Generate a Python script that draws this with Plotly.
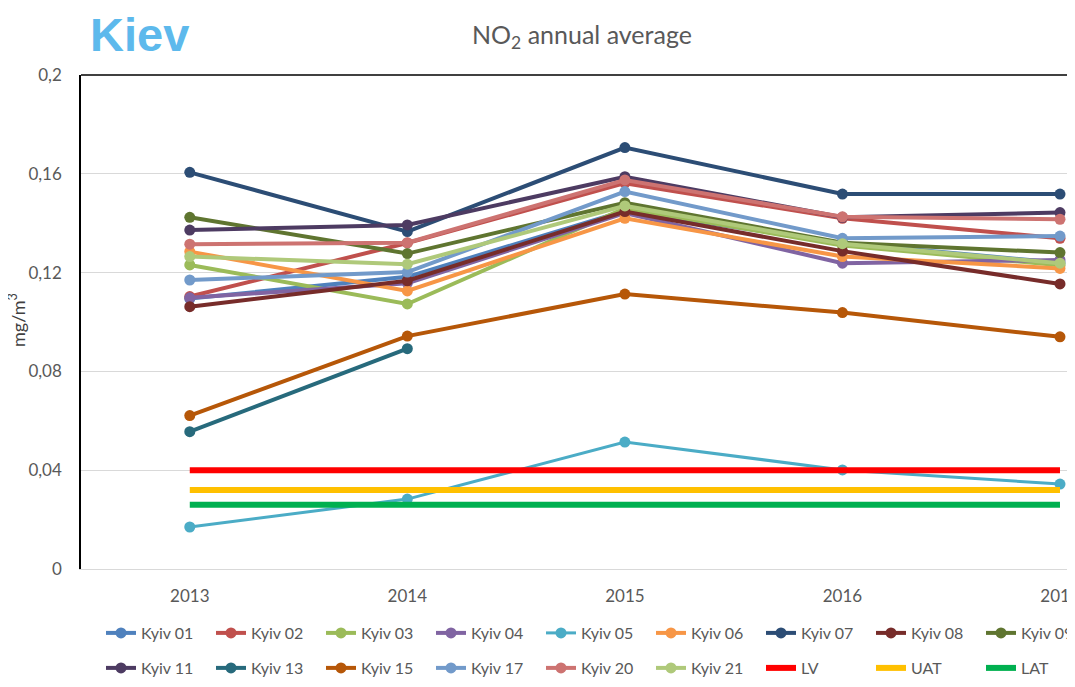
import plotly.graph_objects as go

years = [2013, 2014, 2015, 2016, 2017]

kyiv01 = [0.1095, 0.1183, 0.1450, 0.1320, 0.1240]
kyiv02 = [0.1103, 0.1320, 0.1562, 0.1420, 0.1339]
kyiv03 = [0.1231, 0.1073, 0.1460, 0.1310, 0.1230]
kyiv04 = [0.1098, 0.1157, 0.1441, 0.1238, 0.1251]
kyiv05 = [0.0170, 0.0283, 0.0514, 0.0401, 0.0344]
kyiv06 = [0.1285, 0.1126, 0.1420, 0.1265, 0.1217]
kyiv07 = [0.1606, 0.1366, 0.1706, 0.1518, 0.1518]
kyiv08 = [0.1062, 0.1167, 0.1447, 0.1287, 0.1154]
kyiv09 = [0.1424, 0.1277, 0.1483, 0.1321, 0.1281]
kyiv11 = [0.1372, 0.1393, 0.1588, 0.1424, 0.1443]
kyiv13 = [0.0556, 0.0892, None, None, None]
kyiv15 = [0.0621, 0.0943, 0.1113, 0.1038, 0.0940]
kyiv17 = [0.1170, 0.1202, 0.1528, 0.1339, 0.1348]
kyiv20 = [0.1315, 0.1321, 0.1575, 0.1426, 0.1416]
kyiv21 = [0.1265, 0.1234, 0.1470, 0.1317, 0.1238]
lv = [0.040, 0.040, 0.040, 0.040, 0.040]
uat = [0.032, 0.032, 0.032, 0.032, 0.032]
lat = [0.026, 0.026, 0.026, 0.026, 0.026]

y_ticks = [0, 0.04, 0.08, 0.12, 0.16, 0.2]

stations = [
    ("Kyiv 01", kyiv01, "#4F81BD", "legend"),
    ("Kyiv 02", kyiv02, "#C0504D", "legend"),
    ("Kyiv 03", kyiv03, "#9BBB59", "legend"),
    ("Kyiv 04", kyiv04, "#8064A2", "legend"),
    ("Kyiv 05", kyiv05, "#4BACC6", "legend"),
    ("Kyiv 06", kyiv06, "#F79646", "legend"),
    ("Kyiv 07", kyiv07, "#2C4D75", "legend"),
    ("Kyiv 08", kyiv08, "#772C2A", "legend"),
    ("Kyiv 09", kyiv09, "#5F7530", "legend"),
    ("Kyiv 11", kyiv11, "#4D3B62", "legend2"),
    ("Kyiv 13", kyiv13, "#276A7C", "legend2"),
    ("Kyiv 15", kyiv15, "#B65708", "legend2"),
    ("Kyiv 17", kyiv17, "#729ACA", "legend2"),
    ("Kyiv 20", kyiv20, "#CD7371", "legend2"),
    ("Kyiv 21", kyiv21, "#AFC97A", "legend2"),
]
limits = [
    ("LV", lv, "#FF0000"),
    ("UAT", uat, "#FFC000"),
    ("LAT", lat, "#00B050"),
]

FONT = "Lato"
GREY = "#595959"

fig = go.Figure()
for name, vals, color, leg in stations:
    fig.add_trace(go.Scatter(
        x=years, y=vals, name=name, mode="lines+markers",
        line=dict(color=color, width=3 if name == "Kyiv 05" else 4),
        marker=dict(color=color, size=11),
        legend=leg, connectgaps=False,
    ))
for name, vals, color in limits:
    fig.add_trace(go.Scatter(
        x=years, y=vals, name=name, mode="lines",
        line=dict(color=color, width=6),
        legend="legend2",
    ))

# page body has an 8px default margin: figure origin sits at page (8, 8)
OFF = 8
PAGE_W, PAGE_H = 1075, 687
W, H = PAGE_W - OFF, PAGE_H - 2 * OFF
plot_left, plot_top, plot_bottom = 81, 75, 569  # page pixels
L = plot_left - OFF
T = plot_top - OFF
B = H - (plot_bottom - OFF)
pw = W - L
ph = H - T - B

def px_x(px):
    return (px - OFF - L) / pw

def px_y(py):
    return (H - B - (py - OFF)) / ph

legend_common = dict(
    orientation="h", entrywidth=65, entrywidthmode="pixels",
    font=dict(family=FONT, size=16, color=GREY),
    xanchor="left", yanchor="middle", bgcolor="rgba(0,0,0,0)",
    itemclick=False, tracegroupgap=0, xref="container", yref="container",
)

fig.update_layout(
    width=W, height=H,
    margin=dict(l=L, r=0, t=T, b=B, pad=0, autoexpand=False),
    plot_bgcolor="white", paper_bgcolor="white",
    separators=", ",
    showlegend=True,
    legend=dict(x=(101 - OFF) / W, y=1 - (633 - OFF) / H, **legend_common),
    legend2=dict(x=(101 - OFF) / W, y=1 - (668 - OFF) / H, **legend_common),
    xaxis=dict(
        range=[2012.5, 2017.069], tickvals=years, ticktext=[str(y) for y in years],
        showgrid=False, showline=True, linecolor="#D9D9D9", linewidth=1,
        zeroline=False, ticks="", ticklabelstandoff=12, ticklabeloverflow="allow",
        tickfont=dict(family=FONT, size=17, color=GREY),
    ),
    yaxis=dict(
        range=[0, 0.2], tickvals=y_ticks, showgrid=True, gridcolor="#D9D9D9",
        gridwidth=1, zeroline=False, showline=True, linecolor="black",
        linewidth=1.5, ticks="", ticklabelstandoff=14,
        tickfont=dict(family=FONT, size=17, color=GREY),
    ),
    shapes=[
        dict(type="line", xref="paper", yref="paper", x0=0, x1=1, y0=1, y1=1,
             line=dict(color="black", width=1.5)),
    ],
    annotations=[
        dict(text="Kiev", xref="paper", yref="paper", x=px_x(139), y=px_y(34),
             xanchor="center", yanchor="middle", showarrow=False,
             font=dict(family="Liberation Sans", size=47, color="#5DB9EC", weight="bold")),
        dict(text="NO<sub>2</sub> annual average", xref="paper", yref="paper",
             x=px_x(582), y=px_y(36), xanchor="center", yanchor="middle",
             showarrow=False, font=dict(family=FONT, size=25, color=GREY)),
        dict(text="mg/m<sup>3</sup>", xref="paper", yref="paper",
             x=px_x(17), y=px_y(320), xanchor="center", yanchor="middle",
             textangle=-90, showarrow=False,
             font=dict(family=FONT, size=18, color="#404040")),
    ],
)

fig.write_html("out.html")
